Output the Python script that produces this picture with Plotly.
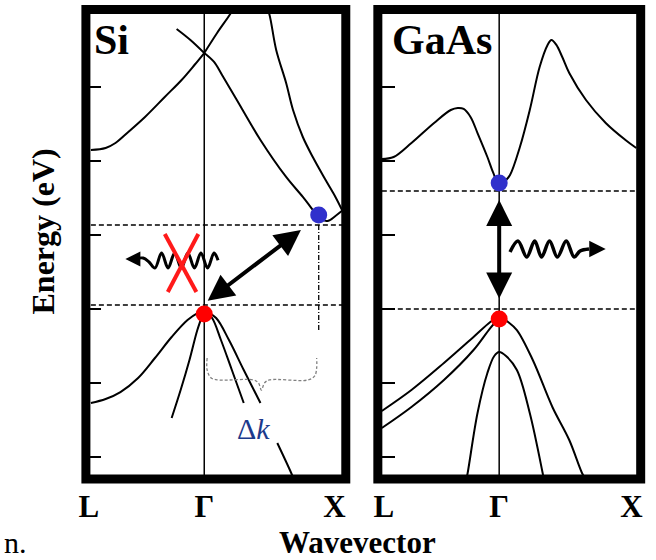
import plotly.graph_objects as go

# ---------------- Si panel data (k: Gamma=0, X=1 ; E in eV) ----------------
si_c1_k = [-0.821, -0.714, -0.643, -0.55, -0.429, -0.286, -0.164, -0.071, 0.0]
si_c1_E = [2.149, 2.176, 2.243, 2.392, 2.595, 2.865, 3.095, 3.297, 3.459]
si_c2_k = [0.0, -0.1, -0.2]
si_c2_E = [3.459, 3.635, 3.784]
si_c3_k = [0.0, 0.093, 0.193, 0.229]
si_c3_E = [3.459, 3.730, 4.0, 4.122]
si_c4_k = [0.0, 0.071, 0.129, 0.236, 0.407, 0.593, 0.714, 0.786, 0.829, 0.893, 0.95, 1.0]
si_c4_E = [3.459, 3.338, 3.162, 2.824, 2.284, 1.784, 1.514, 1.338, 1.230, 1.189, 1.257, 1.33]
si_c5_k = [0.443, 0.471, 0.521, 0.593, 0.643, 0.714, 0.786, 0.879, 0.95, 1.0]
si_c5_E = [4.122, 3.986, 3.5, 3.054, 2.689, 2.324, 2.054, 1.743, 1.514, 1.33]

si_v1_k = [-0.821, -0.714, -0.607, -0.479, -0.357, -0.236, -0.121, -0.036, 0.0]
si_v1_E = [-1.27, -1.216, -1.122, -0.932, -0.662, -0.378, -0.149, -0.041, -0.014]
si_v2_k = [0.0, -0.05, -0.107, -0.171, -0.236]
si_v2_E = [-0.014, -0.284, -0.689, -1.095, -1.473]
si_v3_k = [0.0, 0.057, 0.121, 0.2, 0.286]
si_v3_E = [-0.014, -0.122, -0.419, -0.824, -1.27]
si_v4_k = [0.0, 0.086, 0.179, 0.286, 0.407, None, 0.529, 0.636, 0.664]
si_v4_E = [-0.014, -0.122, -0.419, -0.824, -1.27, None, -1.811, -2.243, -2.378]

si_cbm_E = 1.135       # upper dashed line
si_vbm_E = 0.054       # lower dashed line
si_dot_blue = (0.829, 1.27)
si_dot_red = (0.0, -0.068)
si_vert_k = 0.829
si_vert_E = [1.135, -0.284]

si_photon_k = [-0.5, -0.443, -0.4, -0.357, -0.309, -0.262, -0.214, -0.166, -0.119,
               -0.071, -0.024, 0.024, 0.071, 0.1]
si_photon_E = [0.676, 0.689, 0.635, 0.554, 0.757, 0.554, 0.757, 0.554, 0.757,
               0.554, 0.757, 0.554, 0.757, 0.66]
si_photon_tip = (-0.571, 0.676)

si_cross_k = [-0.286, -0.057, None, -0.043, -0.264]
si_cross_E = [1.014, 0.230, None, 1.014, 0.230]

si_trans_low = (0.014, 0.095)
si_trans_high = (0.70, 1.068)

si_brace_k = [0.021, 0.021, 0.05, 0.107, 0.357, 0.393, 0.414, 0.436, 0.471, 0.75, 0.8, 0.814, 0.814]
si_brace_E = [-0.662, -0.824, -0.932, -0.959, -0.959, -1.0, -1.095, -1.0, -0.959, -0.959, -0.905, -0.797, -0.662]

si_tick_k = [-0.836, 0.0, 0.943]

# ---------------- GaAs panel data ----------------
ga_c_k = [-0.856, -0.770, -0.640, -0.475, -0.353, -0.302, -0.259, -0.209, -0.158, -0.086,
          -0.043, 0.0, 0.043, 0.079, 0.151, 0.223, 0.295, 0.353, 0.381, 0.417, 0.460,
          0.511, 0.633, 0.777, 0.921, 1.0]
ga_c_E = [2.027, 2.054, 2.243, 2.514, 2.689, 2.716, 2.703, 2.595, 2.378, 2.054,
          1.838, 1.676, 1.730, 1.811, 2.189, 2.689, 3.270, 3.568, 3.635, 3.568, 3.405,
          3.189, 2.824, 2.514, 2.284, 2.176]
ga_hh_k = [-0.856, -0.640, -0.403, -0.187, -0.065, 0.0]
ga_hh_E = [-1.378, -1.095, -0.730, -0.378, -0.176, -0.095]
ga_lh_k = [-0.856, -0.640, -0.403, -0.187, -0.065, 0.0]
ga_lh_E = [-1.608, -1.324, -0.959, -0.554, -0.257, -0.122]
ga_vr_k = [0.0, 0.065, 0.129, 0.245, 0.388, 0.511, 0.604, 0.633]
ga_vr_E = [-0.095, -0.176, -0.284, -0.689, -1.324, -1.770, -2.216, -2.311]
ga_so_k = [-0.245, -0.230, -0.158, -0.086, -0.036, 0.0, 0.05, 0.129, 0.223, 0.317, 0.331]
ga_so_E = [-2.351, -2.216, -1.405, -0.865, -0.635, -0.581, -0.635, -0.824, -1.405, -2.216, -2.351]

ga_cbm_E = 1.595
ga_vbm_E = 0.0
ga_dot_blue = (0.0, 1.703)
ga_dot_red = (0.0, -0.135)

ga_photon_k = [0.079, 0.137, 0.201, 0.259, 0.309, 0.367, 0.424, 0.489, 0.547, 0.590, 0.655]
ga_photon_E = [0.770, 0.919, 0.703, 0.919, 0.703, 0.919, 0.703, 0.919, 0.703, 0.784, 0.811]
ga_photon_tip = (0.777, 0.811)

ga_trans_low = (0.0, 0.122)
ga_trans_high = (0.0, 1.473)

ga_tick_k = [-0.842, 0.0, 0.964]

tick_text = ["L", "Γ", "X"]
energy_ticks = [-2, -1, 0, 1, 2, 3]

# ---------------- figure ----------------
W, H = 656, 560
SERIF = "Liberation Serif"
fig = go.Figure()

def line(k, E, xa, ya, width=2, color="black", dash="solid", shape="spline"):
    fig.add_trace(go.Scatter(x=k, y=E, xaxis=xa, yaxis=ya, mode="lines",
                             line=dict(color=color, width=width, dash=dash, shape=shape),
                             hoverinfo="skip", showlegend=False))

# Si bands
for k, E in [(si_c1_k, si_c1_E), (si_c2_k, si_c2_E), (si_c3_k, si_c3_E),
             (si_c4_k, si_c4_E), (si_c5_k, si_c5_E), (si_v1_k, si_v1_E),
             (si_v2_k, si_v2_E), (si_v3_k, si_v3_E), (si_v4_k, si_v4_E)]:
    line(k, E, "x", "y")
# GaAs bands
for k, E in [(ga_c_k, ga_c_E), (ga_hh_k, ga_hh_E), (ga_lh_k, ga_lh_E),
             (ga_vr_k, ga_vr_E), (ga_so_k, ga_so_E)]:
    line(k, E, "x2", "y2")

YR = [-2.297, 4.047]
SI_XR = [-0.857, 1.025]
GA_XR = [-0.885, 1.032]

# Gamma lines
line([0, 0], YR, "x", "y", width=1.5, shape="linear")
line([0, 0], YR, "x2", "y2", width=1.5, shape="linear")

# dashed reference lines
line([si_c1_k[0], 1.0], [si_cbm_E, si_cbm_E], "x", "y", 1.5, dash="5px,3px", shape="linear")
line([si_c1_k[0], 1.0], [si_vbm_E, si_vbm_E], "x", "y", 1.5, dash="5px,3px", shape="linear")
line([si_vert_k, si_vert_k], si_vert_E, "x", "y", 1.3, dash="5px,2px,1px,2px", shape="linear")
line([ga_c_k[0], 1.0], [ga_cbm_E, ga_cbm_E], "x2", "y2", 1.5, dash="5px,3px", shape="linear")
line([ga_c_k[0], 1.0], [ga_vbm_E, ga_vbm_E], "x2", "y2", 1.5, dash="5px,3px", shape="linear")

# brace
line(si_brace_k, si_brace_E, "x", "y", 1.3, color="#808080", dash="3px,2px")

# photons
line(si_photon_k, si_photon_E, "x", "y", 3)
line(ga_photon_k, ga_photon_E, "x2", "y2", 3.5)

# red X
line(si_cross_k, si_cross_E, "x", "y", 4, color="#ff1a1a", shape="linear")

# dots
def dot(p, color, xa, ya):
    fig.add_trace(go.Scatter(x=[p[0]], y=[p[1]], xaxis=xa, yaxis=ya, mode="markers",
                             marker=dict(size=17, color=color, line=dict(width=0)),
                             hoverinfo="skip", showlegend=False))
dot(si_dot_blue, "#3030cc", "x", "y")
dot(si_dot_red, "#ff0000", "x", "y")
dot(ga_dot_blue, "#3030cc", "x2", "y2")
dot(ga_dot_red, "#ff0000", "x2", "y2")

def px(v):
    return v / W
def py(v):
    return 1 - v / H

ydom = [py(479), py(9.5)]
common_y = dict(range=YR, domain=ydom, showgrid=False, zeroline=False, ticks="inside",
                tickvals=energy_ticks, tickwidth=2, tickcolor="black", showticklabels=False)
tickfont = dict(family=SERIF, size=31, color="black", weight="bold")
common_x = dict(showgrid=False, zeroline=False, ticks="", tickfont=tickfont,
                ticktext=tick_text, ticklabelstandoff=6)

fig.update_layout(
    width=W, height=H, margin=dict(l=0, r=0, t=0, b=0),
    paper_bgcolor="white", plot_bgcolor="white", showlegend=False,
    xaxis=dict(domain=[px(80), px(343.5)], range=SI_XR, tickvals=si_tick_k,
               anchor="y", **common_x),
    yaxis=dict(anchor="x", ticklen=15, **common_y),
    xaxis2=dict(domain=[px(376), px(642.5)], range=GA_XR, tickvals=ga_tick_k,
                anchor="y2", **common_x),
    yaxis2=dict(anchor="x2", ticklen=17, **common_y),
)

# borders
for xr, yr in [("x domain", "y domain"), ("x2 domain", "y2 domain")]:
    fig.add_shape(type="rect", xref=xr, yref=yr, x0=0, x1=1, y0=0, y1=1,
                  line=dict(color="black", width=9), layer="above")

def arrow(head, tail, xa, ya, width, size, both=False):
    fig.add_annotation(x=head[0], y=head[1], ax=tail[0], ay=tail[1], xref=xa, yref=ya,
                       axref=xa, ayref=ya, text="", showarrow=True, arrowhead=2,
                       arrowsize=size, arrowwidth=width, arrowcolor="black",
                       arrowside="end+start" if both else "end",
                       startarrowhead=2, startarrowsize=size, standoff=0, startstandoff=0)

arrow(si_trans_high, si_trans_low, "x", "y", 4, 1.3, both=True)
arrow(ga_trans_high, ga_trans_low, "x2", "y2", 4, 1.3, both=True)
arrow(si_photon_tip, (si_photon_k[0], si_photon_E[0]), "x", "y", 2.5, 1.2)
arrow(ga_photon_tip, (ga_photon_k[-1], ga_photon_E[-1]), "x2", "y2", 3, 1.1)

bold = dict(family=SERIF, color="black", weight="bold")
fig.add_annotation(x=px(86), y=py(40), xref="paper", yref="paper", text="Si",
                   showarrow=False, xanchor="left", yanchor="middle", font=dict(size=42, **bold))
fig.add_annotation(x=px(388), y=py(40), xref="paper", yref="paper", text="GaAs",
                   showarrow=False, xanchor="left", yanchor="middle", font=dict(size=42, **bold))
fig.add_annotation(x=px(36), y=py(232), xref="paper", yref="paper", text="Energy (eV)",
                   textangle=-90, showarrow=False, xanchor="center", yanchor="middle",
                   font=dict(size=32, **bold))
fig.add_annotation(x=px(355), y=py(542), xref="paper", yref="paper", text="Wavevector",
                   showarrow=False, xanchor="center", yanchor="middle",
                   font=dict(size=31, **bold))
fig.add_annotation(x=px(250), y=py(428), xref="paper", yref="paper", text="Δ<i>k</i>",
                   showarrow=False, xanchor="center", yanchor="middle",
                   font=dict(family=SERIF, size=30, color="#1c3a8c"))
fig.add_annotation(x=px(22), y=py(542), xref="paper", yref="paper", text="n.",
                   showarrow=False, xanchor="right", yanchor="middle",
                   font=dict(family=SERIF, size=30, color="black"))

fig.write_html("out.html", config={"displayModeBar": False},
               post_script="document.body.style.margin='0';document.body.style.overflow='hidden';")
